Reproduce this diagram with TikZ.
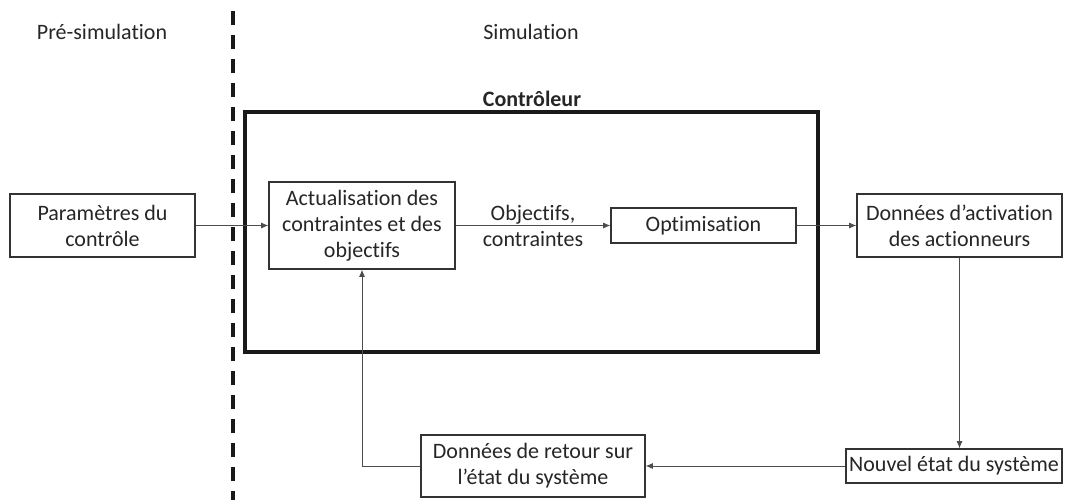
\documentclass[tikz,border=0pt]{standalone}
\usepackage{fontspec}
\setmainfont{Carlito}[Ligatures={NoCommon}]
\usetikzlibrary{arrows.meta}
\tikzset{
  every node/.style={text=black!85, font=\fontsize{11}{13}\selectfont},
  blockbox/.style={draw=black!80, line width=0.6pt, fill=white, align=center, inner sep=0pt, anchor=center},
  flow/.style={draw=black!70, line width=0.5pt, -{Latex[length=3.6pt,width=3pt]}},
}
\begin{document}
\begin{tikzpicture}[x=0.5pt, y=-0.5pt]
\useasboundingbox (0,0) rectangle (1067,500);
% phase separator
\coordinate (sepTop) at (233,11);
\coordinate (sepBot) at (233,500);
\draw[line width=1.8pt, black!90, dash pattern=on 7pt off 5pt] (sepTop) -- (sepBot);
\node (pre) at (102,32) {Pré-simulation};
\node (sim) at (531,32) {Simulation};
% controller frame
\node (ctrl) [draw=black!90, line width=2pt, minimum width=286.5pt, minimum height=120pt, inner sep=0pt] at (531.5,232) {};
\node (ctrllabel) [font=\fontsize{11}{13}\selectfont\bfseries] at (532,99) {Contrôleur};
% blocks
\node (param) [blockbox, minimum width=92.5pt, minimum height=31.5pt] at (102.5,225.5) {Paramètres du\\contrôle};
\node (actu) [blockbox, minimum width=93pt, minimum height=43.5pt] at (362,225.5) {Actualisation des\\contraintes et des\\objectifs};
\node (optim) [blockbox, minimum width=92.5pt, minimum height=17.5pt] at (703.5,225.5) {Optimisation};
\node (activ) [blockbox, minimum width=102.5pt, minimum height=31.5pt] at (959.5,225.5) {Données d’activation\\des actionneurs};
\node (nouvel) [blockbox, minimum width=108pt, minimum height=17pt] at (954,466) {Nouvel état du système};
\node (retour) [blockbox, minimum width=112pt, minimum height=31pt] at (533,466) {Données de retour sur\\l’état du système};
% connectors
\draw[flow] (param.east) -- (actu.west);
\draw[flow] (actu.east) -- node (objlabel) [align=center, anchor=center] {Objectifs,\\contraintes} (optim.west);
\draw[flow] (optim.east) -- (activ.west);
\draw[flow] (activ.south) -- (activ.south |- nouvel.north);
\draw[flow] (nouvel.west) -- (retour.east);
\draw[flow] (retour.west) -| (actu.south);
\end{tikzpicture}
\end{document}
